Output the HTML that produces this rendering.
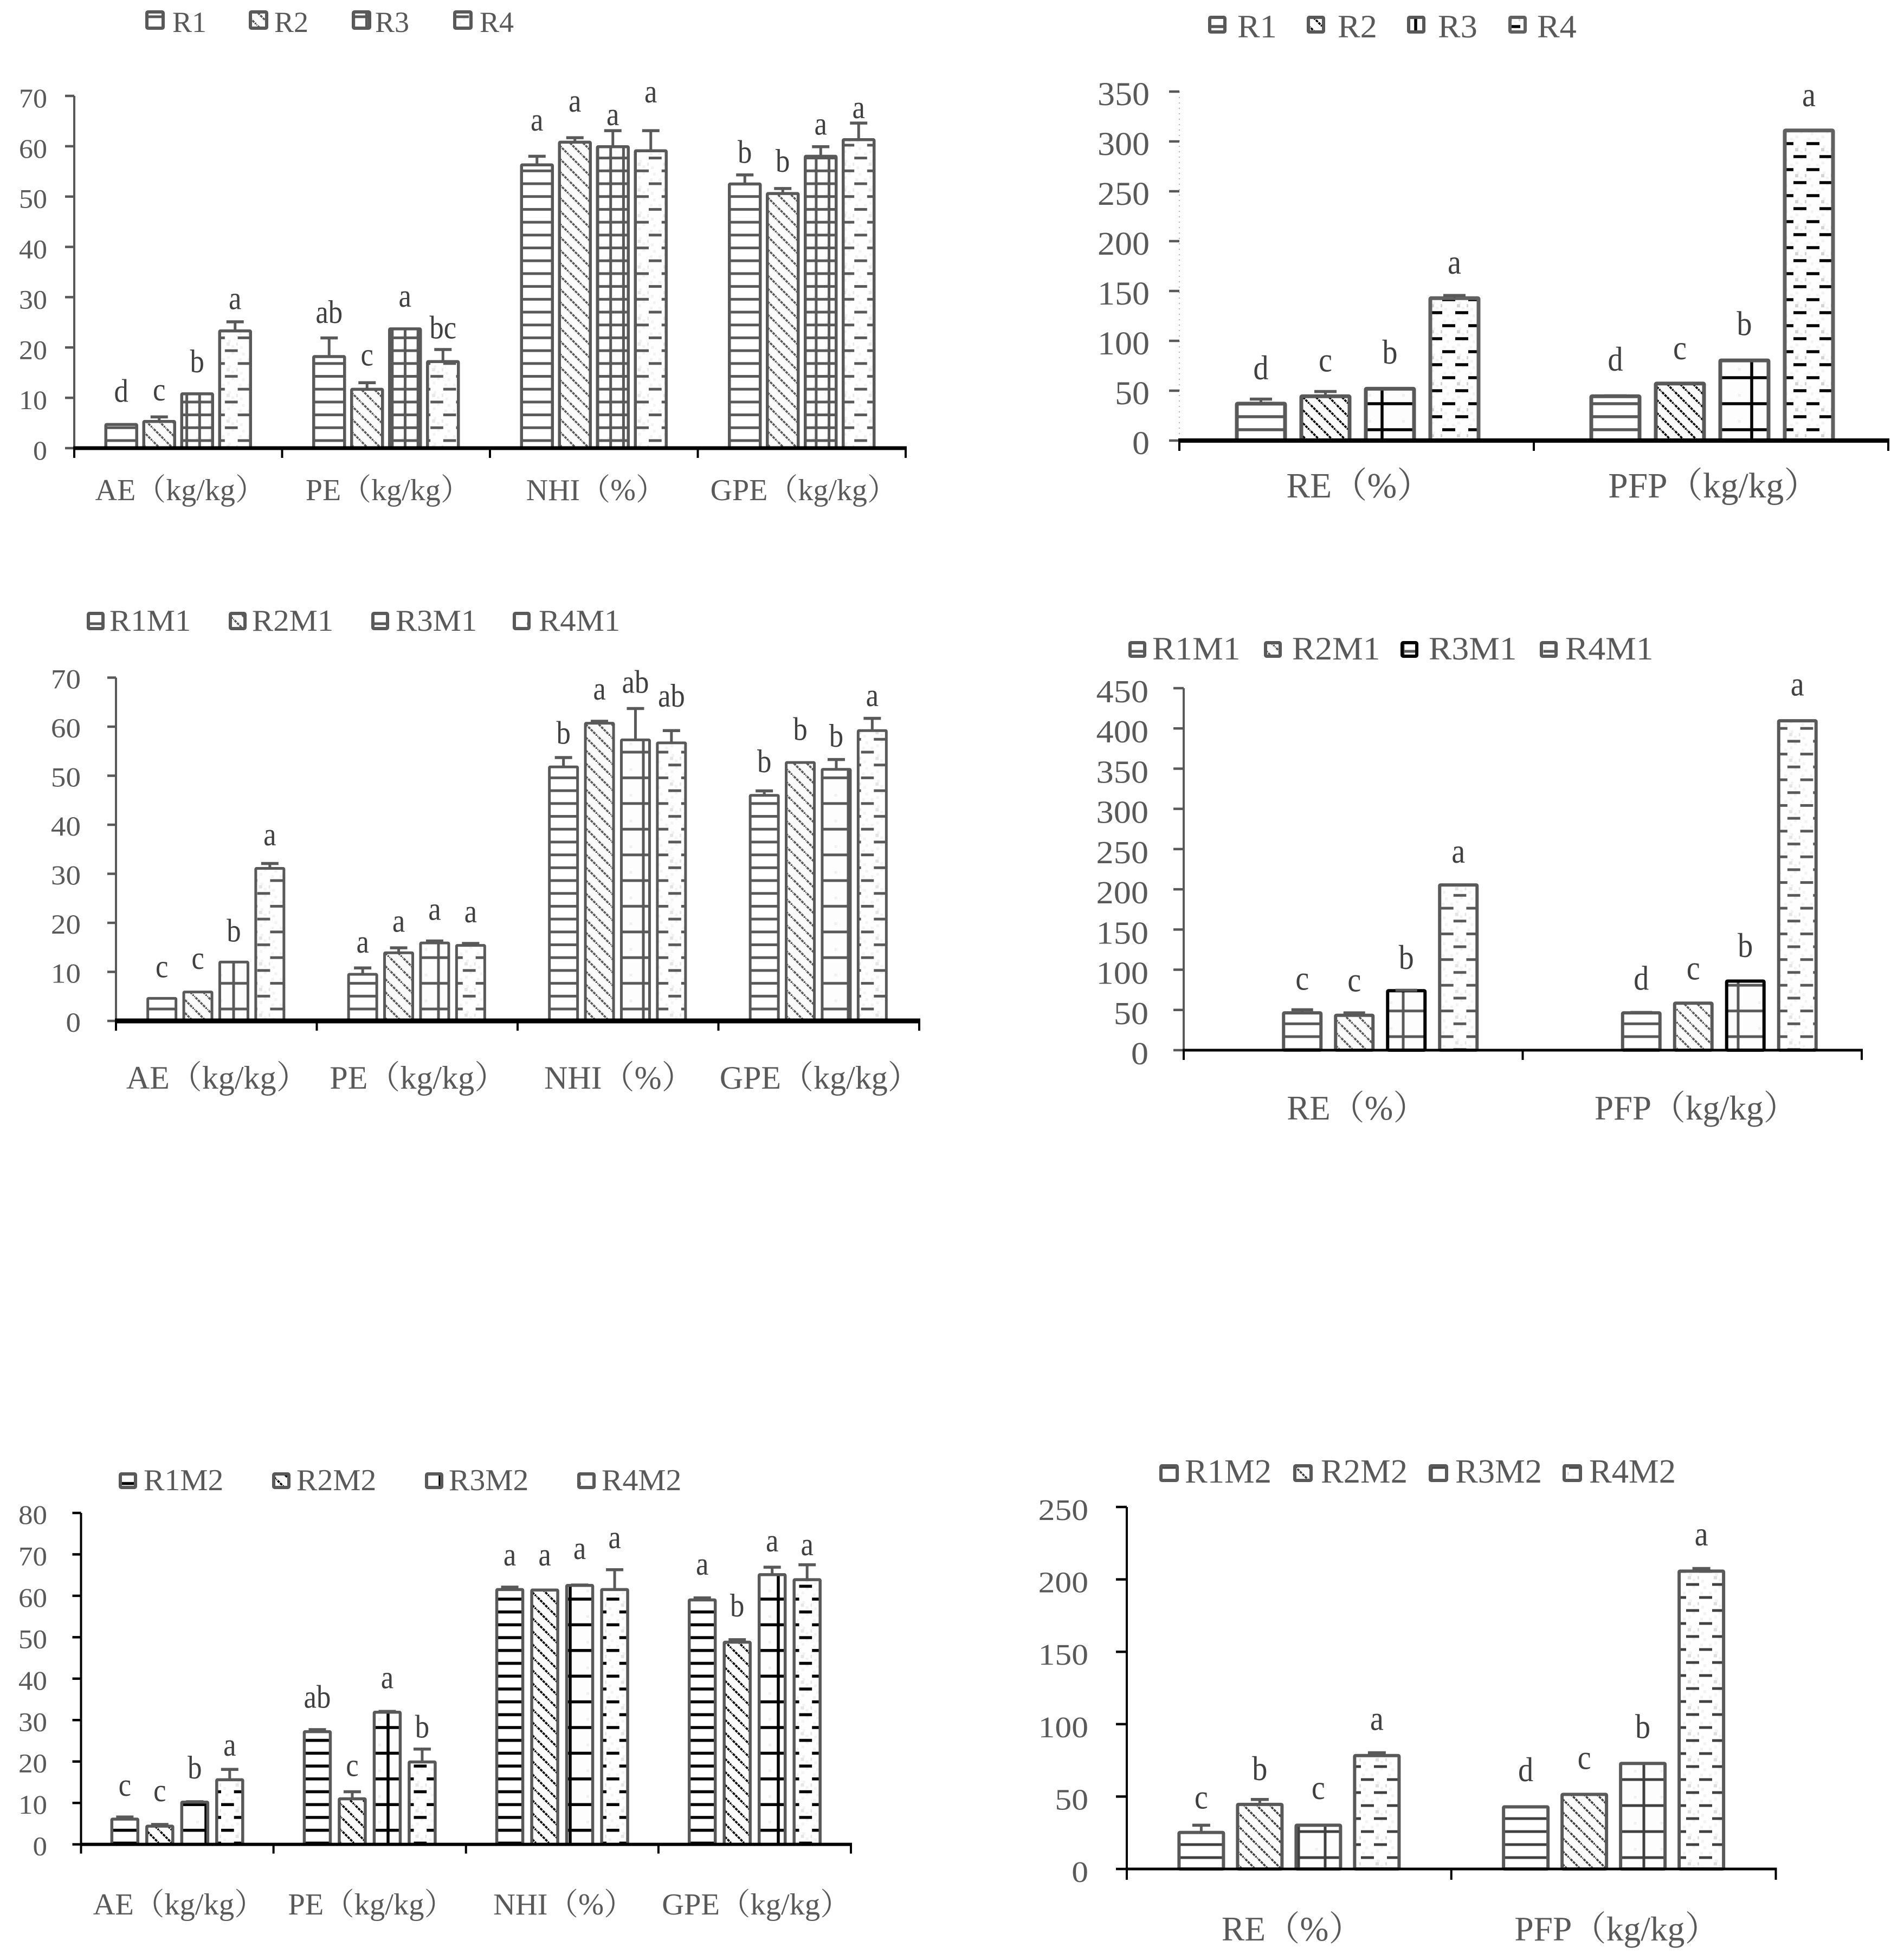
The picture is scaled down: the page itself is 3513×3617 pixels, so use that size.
<!DOCTYPE html>
<html lang="en">
<head>
<meta charset="utf-8">
<title>Grouped bar charts R1-R4</title>
<style>
html,body{margin:0;padding:0;background:#fff;}
svg{display:block;}
text{font-family:"Liberation Serif","Noto Serif CJK SC",serif;}
</style>
</head>
<body>
<svg id="figure" xmlns="http://www.w3.org/2000/svg" width="3513" height="3617" viewBox="0 0 3513 3617">
<defs id="defs"></defs>
<rect x="0" y="0" width="3513" height="3617" fill="#ffffff"/>
</svg>
<script>
// ---- data: top-left chart ----
const c1Categories = ['AE（kg/kg）','PE（kg/kg）','NHI（%）','GPE（kg/kg）'];
const c1Series = ['R1','R2','R3','R4'];
const c1Ticks = [0,10,20,30,40,50,60,70];
const c1R1 = [4.7,18.2,56.3,52.5];
const c1R2 = [5.3,11.7,60.8,50.6];
const c1R3 = [10.8,23.7,59.9,58];
const c1R4 = [23.3,17.2,59.1,61.3];
const c1ErrR1 = [0,3.7,1.7,1.8];
const c1ErrR2 = [0.9,1.3,0.9,1];
const c1ErrR3 = [0,0,3.2,1.9];
const c1ErrR4 = [1.8,2.4,4,3.3];
const c1LetR1 = ['d','ab','a','b'];
const c1LetR2 = ['c','c','a','b'];
const c1LetR3 = ['b','a','a','a'];
const c1LetR4 = ['a','bc','a','a'];
const c1LiftR1 = [4.5,3,5.1,2.4];
const c1LiftR2 = [3.3,3.4,5.2,3.3];
const c1LiftR3 = [4.3,4.4,1.1,2.4];
const c1LiftR4 = [2.5,2.2,5.6,1];

// ---- data: top-right chart ----
const c2Categories = ['RE（%）','PFP（kg/kg）'];
const c2Series = ['R1','R2','R3','R4'];
const c2Ticks = [0,50,100,150,200,250,300,350];
const c2R1 = [37,44.4];
const c2R2 = [44.4,57.2];
const c2R3 = [52,80.4];
const c2R4 = [142.8,311];
const c2ErrR1 = [4.6,0.5];
const c2ErrR2 = [4.8,0];
const c2ErrR3 = [0,0];
const c2ErrR4 = [2.7,0];
const c2LetR1 = ['d','d'];
const c2LetR2 = ['c','c'];
const c2LetR3 = ['b','b'];
const c2LetR4 = ['a','a'];
const c2LiftR1 = [19.7,25.1];
const c2LiftR2 = [20.1,24.2];
const c2LiftR3 = [25.3,25.3];
const c2LiftR4 = [21.9,24.4];

// ---- data: middle-left chart ----
const c3Categories = ['AE（kg/kg）','PE（kg/kg）','NHI（%）','GPE（kg/kg）'];
const c3Series = ['R1M1','R2M1','R3M1','R4M1'];
const c3Ticks = [0,10,20,30,40,50,60,70];
const c3R1 = [4.6,9.5,51.8,46];
const c3R2 = [5.9,13.9,60.7,52.7];
const c3R3 = [12,15.9,57.3,51.3];
const c3R4 = [31.1,15.4,56.7,59.2];
const c3ErrR1 = [0,1.3,1.9,0.9];
const c3ErrR2 = [0,1,0.4,0];
const c3ErrR3 = [0,0.4,6.4,2];
const c3ErrR4 = [1,0.4,2.5,2.5];
const c3LetR1 = ['c','a','b','b'];
const c3LetR2 = ['c','a','a','b'];
const c3LetR3 = ['b','a','ab','b'];
const c3LetR4 = ['a','a','ab','a'];
const c3LiftR1 = [4.3,3.1,2.8,3.8];
const c3LiftR2 = [4.7,3.3,4.4,4.6];
const c3LiftR3 = [4.2,4.3,3.2,2.6];
const c3LiftR4 = [3.7,4.3,4.9,2.5];

// ---- data: middle-right chart ----
const c4Categories = ['RE（%）','PFP（kg/kg）'];
const c4Series = ['R1M1','R2M1','R3M1','R4M1'];
const c4Ticks = [0,50,100,150,200,250,300,350,400,450];
const c4R1 = [46.4,46.4];
const c4R2 = [43.4,58.4];
const c4R3 = [73.9,85.9];
const c4R4 = [205.4,409.5];
const c4ErrR1 = [3.9,0.5];
const c4ErrR2 = [3,0];
const c4ErrR3 = [0.6,0];
const c4ErrR4 = [0,0];
const c4LetR1 = ['c','d'];
const c4LetR2 = ['c','c'];
const c4LetR3 = ['b','b'];
const c4LetR4 = ['a','a'];
const c4LiftR1 = [24.9,28.3];
const c4LiftR2 = [26.6,29.6];
const c4LiftR3 = [26.5,30.1];
const c4LiftR4 = [27.6,31.5];

// ---- data: bottom-left chart ----
const c5Categories = ['AE（kg/kg）','PE（kg/kg）','NHI（%）','GPE（kg/kg）'];
const c5Series = ['R1M2','R2M2','R3M2','R4M2'];
const c5Ticks = [0,10,20,30,40,50,60,70,80];
const c5R1 = [6.1,27.2,61.5,59];
const c5R2 = [4.4,11,61.4,48.8];
const c5R3 = [10.2,31.9,62.5,65.1];
const c5R4 = [15.6,19.9,61.5,63.9];
const c5ErrR1 = [0.5,0.5,0.6,0.5];
const c5ErrR2 = [0.4,1.7,0,0.6];
const c5ErrR3 = [0.1,0.2,0.1,1.8];
const c5ErrR4 = [2.5,3.1,4.8,3.6];
const c5LetR1 = ['c','ab','a','a'];
const c5LetR2 = ['c','c','a','b'];
const c5LetR3 = ['b','a','a','a'];
const c5LetR4 = ['a','b','a','a'];
const c5LiftR1 = [5.1,5.3,5.2,5.6];
const c5LiftR2 = [5.6,3.8,5.9,5.6];
const c5LiftR3 = [5.6,5.6,6.3,3.8];
const c5LiftR4 = [3.3,2.8,5.2,2.3];

// ---- data: bottom-right chart ----
const c6Categories = ['RE（%）','PFP（kg/kg）'];
const c6Series = ['R1M2','R2M2','R3M2','R4M2'];
const c6Ticks = [0,50,100,150,200,250];
const c6R1 = [25.2,42.9];
const c6R2 = [44.6,51.5];
const c6R3 = [30.2,72.9];
const c6R4 = [78.3,205.7];
const c6ErrR1 = [5,0];
const c6ErrR2 = [3.4,0];
const c6ErrR3 = [0,0];
const c6ErrR4 = [2,1.8];
const c6LetR1 = ['c','d'];
const c6LetR2 = ['b','c'];
const c6LetR3 = ['c','b'];
const c6LetR4 = ['a','a'];
const c6LiftR1 = [11.6,17.8];
const c6LiftR2 = [13.4,17.5];
const c6LiftR3 = [18,17.4];
const c6LiftR4 = [15.7,15.9];

// ---- layout (pixels and styling only) ----
const layouts = [
 {id:'c1',x0:137,x1:1671,top:177,base:827,max:70,cats:c1Categories,series:c1Series,ticks:c1Ticks,
  vals:[c1R1,c1R2,c1R3,c1R4],errs:[c1ErrR1,c1ErrR2,c1ErrR3,c1ErrR4],lets:[c1LetR1,c1LetR2,c1LetR3,c1LetR4],lifts:[c1LiftR1,c1LiftR2,c1LiftR3,c1LiftR4],
  pitch:70,barW:57,stroke:5.5,capW:32,barShift:0,tickLen:17,xTickLen:18,axisW:7,yAxisW:4,
  tickFont:50,tickSx:1.04,tickRight:87,tickDy:21,letFont:60,letSx:.88,
  catFont:56,catBase:923,catShift:4,
  legFont:54,legSx:1,legBase:59,legSwY:22,legSwH:30,legSwX:[271,462,652,839],legSwW:30,legTxt:[318,506,692,885],
  hOff:14,hP:23.7,vP:23.7,vAnchor:1126.7,dashX:1197,hatch:['#595959','#595959','#595959','#595959'],t:5,dots:'#e8e8e8',border:['#595959','#595959','#595959','#595959'],axisCol:'#595959'},
 {id:'c2',x0:2176,x1:3484,top:169,base:813,max:350,cats:c2Categories,series:c2Series,ticks:c2Ticks,
  vals:[c2R1,c2R2,c2R3,c2R4],errs:[c2ErrR1,c2ErrR2,c2ErrR3,c2ErrR4],lets:[c2LetR1,c2LetR2,c2LetR3,c2LetR4],lifts:[c2LiftR1,c2LiftR2,c2LiftR3,c2LiftR4],
  pitch:119,barW:89,stroke:7,capW:41,barShift:2,tickLen:19,xTickLen:19,axisW:8,yAxisW:1.5,yDash:'2 8',
  tickFont:61,tickSx:1.05,tickRight:2121,tickDy:25,letFont:64,letSx:.88,
  catFont:65.5,catBase:918,catShift:5,
  legFont:60,legSx:1.04,legBase:69,legSwY:32,legSwH:27,legSwX:[2232,2414,2599,2786],legSwW:28,legTxt:[2283,2468,2653,2836],
  hOff:20,hP:24,vP:62,vAnchor:2550,hMul:2,dashX:3333,hatch:['#595959','#000000','#000000','#000000'],t:5.5,dots:'#d4d4d4',border:['#595959','#595959','#595959','#616161'],axisCol:'#595959'},
 {id:'c3',x0:214,x1:1696,top:1250.5,base:1884,max:70,cats:c3Categories,series:c3Series,ticks:c3Ticks,
  vals:[c3R1,c3R2,c3R3,c3R4],errs:[c3ErrR1,c3ErrR2,c3ErrR3,c3ErrR4],lets:[c3LetR1,c3LetR2,c3LetR3,c3LetR4],lifts:[c3LiftR1,c3LiftR2,c3LiftR3,c3LiftR4],
  pitch:66.4,barW:52,stroke:5,capW:32,barShift:-1,tickLen:16,xTickLen:18,axisW:9,yAxisW:4,
  tickFont:51,tickSx:1.08,tickRight:149,tickDy:20,letFont:60,letSx:.88,
  catFont:60,catBase:2009,catShift:2,
  legFont:56,legSx:1.05,legBase:1164,legSwY:1132,legSwH:28,legSwX:[163,425,688,949],legSwW:27,legTxt:[202,465,730,994],
  hOff:22,hP:23.7,vP:63,vAnchor:431,hMul:2,hatch:['#595959','#595959','#595959','#595959'],t:5,dots:'#e4e4e4',border:['#595959','#595959','#595959','#595959'],axisCol:'#595959'},
 {id:'c4',x0:2184,x1:3435,top:1270,base:1938,max:450,cats:c4Categories,series:c4Series,ticks:c4Ticks,
  vals:[c4R1,c4R2,c4R3,c4R4],errs:[c4ErrR1,c4ErrR2,c4ErrR3,c4ErrR4],lets:[c4LetR1,c4LetR2,c4LetR3,c4LetR4],lifts:[c4LiftR1,c4LiftR2,c4LiftR3,c4LiftR4],
  pitch:96,barW:69,stroke:6,capW:40,barShift:50,tickLen:19,xTickLen:18,axisW:5,yAxisW:4,
  tickFont:59,tickSx:1.09,tickRight:2119,tickDy:26,letFont:64,letSx:.88,
  catFont:63,catBase:2066,catShift:7,
  legFont:60,legSx:1.06,legBase:1217,legSwY:1186,legSwH:25,legSwX:[2085,2335,2587,2844],legSwW:27,legTxt:[2126,2384,2636,2888],
  hOff:25,hP:23.7,vP:61.8,vAnchor:2589,hMul:2,hatch:['#595959','#595959','#595959','#595959'],t:5,dots:'#e4e4e4',border:['#595959','#595959','#000000','#595959'],axisCol:'#595959'},
 {id:'c5',x0:149.5,x1:1570,top:2792,base:3403.6,max:80,cats:c5Categories,series:c5Series,ticks:c5Ticks,
  vals:[c5R1,c5R2,c5R3,c5R4],errs:[c5ErrR1,c5ErrR2,c5ErrR3,c5ErrR4],lets:[c5LetR1,c5LetR2,c5LetR3,c5LetR4],lifts:[c5LiftR1,c5LiftR2,c5LiftR3,c5LiftR4],
  pitch:64.5,barW:48,stroke:5.5,capW:32,barShift:0,tickLen:16,xTickLen:17,axisW:6,yAxisW:4,yCol:'#000000',
  tickFont:50,tickSx:1.06,tickRight:87,tickDy:20,letFont:60,letSx:.88,
  catFont:56.5,catBase:3533,catShift:3,
  legFont:56,legSx:1.03,legBase:2750,legSwY:2720,legSwH:25,legSwX:[222,505,787,1068],legSwW:28,legTxt:[265,547,828,1110],
  hOff:26,hP:23.7,vP:48,vAnchor:716,hMul:2,dashX:1119,hatch:['#000000','#000000','#000000','#000000'],t:5.5,dots:'#e6e6e6',border:['#595959','#595959','#595959','#595959'],axisCol:'#404040'},
 {id:'c6',x0:2079,x1:3276.5,top:2781,base:3449,max:250,cats:c6Categories,series:c6Series,ticks:c6Ticks,
  vals:[c6R1,c6R2,c6R3,c6R4],errs:[c6ErrR1,c6ErrR2,c6ErrR3,c6ErrR4],lets:[c6LetR1,c6LetR2,c6LetR3,c6LetR4],lifts:[c6LiftR1,c6LiftR2,c6LiftR3,c6LiftR4],
  pitch:108,barW:82,stroke:6,capW:33,barShift:0,tickLen:20,xTickLen:20,axisW:5,yAxisW:4,yCol:'#000000',
  tickFont:55,tickSx:1.12,tickRight:2008,tickDy:24,letFont:64,letSx:.88,
  catFont:63.5,catBase:3581,catShift:6,
  legFont:62,legSx:1.01,legBase:2736,legSwY:2705,legSwH:27,legSwX:[2142,2389,2639,2886],legSwW:30,legTxt:[2186,2437,2685,2932],
  hOff:21,hP:24,vP:49,vAnchor:2445,hMul:2,hatch:['#404040','#404040','#404040','#404040'],t:5,dots:'#dedede',border:['#595959','#595959','#595959','#595959'],axisCol:'#000000'}
];

const NS = 'http://www.w3.org/2000/svg';
const root = document.getElementById('figure');
const defs = document.getElementById('defs');

function mk(tag, attrs, parent){
  const el = document.createElementNS(NS, tag);
  for(const k in attrs){ el.setAttribute(k, attrs[k]); }
  if(parent){ parent.appendChild(el); }
  return el;
}
function addText(parent, x, y, str, size, anchor, sx, fill){
  const el = mk('text', {transform:'translate('+x+','+y+') scale('+sx+',1)','font-size':size,'text-anchor':anchor,fill:fill}, parent);
  el.textContent = str;
  return el;
}

function buildPatterns(L){
  const firstLine = L.base - L.hOff;
  // R1: horizontal rules
  const p1 = mk('pattern',{id:L.id+'-r1',patternUnits:'userSpaceOnUse',x:0,y:firstLine-L.hP/2,width:20,height:L.hP},defs);
  mk('rect',{width:20,height:L.hP,fill:'#ffffff'},p1);
  mk('rect',{x:0,y:L.hP/2-L.t/2,width:20,height:L.t,fill:L.hatch[0]},p1);
  // R2: diagonal dashes
  const p2 = mk('pattern',{id:L.id+'-r2',patternUnits:'userSpaceOnUse',x:L.x0,y:firstLine,width:24,height:24},defs);
  mk('rect',{width:24,height:24,fill:'#fbfbfb'},p2);
  mk('line',{x1:-2,y1:-2,x2:26,y2:26,stroke:L.hatch[1],'stroke-width':3.6,'stroke-dasharray':'5 1.6'},p2);
  // R3: grid
  const hh = L.hP*(L.hMul||1);
  const p3 = mk('pattern',{id:L.id+'-r3',patternUnits:'userSpaceOnUse',x:L.vAnchor-L.vP/2,y:firstLine-hh/2,width:L.vP,height:hh},defs);
  mk('rect',{width:L.vP,height:hh,fill:'#fdfdfd'},p3);
  mk('rect',{x:6,y:6,width:5,height:5,fill:'#f0f0f0'},p3);
  mk('rect',{x:0,y:hh/2-L.t/2,width:L.vP,height:L.t,fill:L.hatch[2]},p3);
  mk('rect',{x:L.vP/2-L.t/2,y:0,width:L.t,height:hh,fill:L.hatch[2]},p3);
  // R4: staggered dashes on a light speckle
  const P = L.hP*2;
  const dashStart = (L.dashX === undefined) ? L.x0 : L.dashX;
  const p4 = mk('pattern',{id:L.id+'-r4',patternUnits:'userSpaceOnUse',x:dashStart,y:firstLine-L.t/2,width:P,height:P},defs);
  mk('rect',{width:P,height:P,fill:'#fefefe'},p4);
  [[3,11],[21,11]].forEach(function(d){
    mk('rect',{x:P/2+d[0],y:d[1],width:6,height:6,fill:L.dots},p4);
  });
  [[P/2+6,6],[P/2+12,16],[4,18],[28,36],[8,30],[18,40],[36,28],[2,40]].forEach(function(d){
    mk('rect',{x:d[0],y:d[1],width:5,height:5,fill:'#f3f3f3'},p4);
  });
  mk('rect',{x:0,y:0,width:P/2,height:L.t,fill:L.hatch[3]},p4);
  mk('rect',{x:P/2,y:P/2,width:P/2,height:L.t,fill:L.hatch[3]},p4);
}

function drawChart(L){
  buildPatterns(L);
  const yOf = function(v){ return L.base - (v/L.max)*(L.base-L.top); };
  const band = (L.x1-L.x0)/L.cats.length;
  const catX = function(c){ return L.x0 + (c+0.5)*band; };
  const barX = function(c,s){ return catX(c) + L.barShift + (s-1.5)*L.pitch; };
  const yCol = L.yCol || L.axisCol;

  const g = mk('g',{},root);
  
  

  // bars, error bars, significance letters
  L.series.forEach(function(name,s){
    L.cats.forEach(function(cat,c){
      const v = L.vals[s][c];
      const e = L.errs[s][c];
      const cx = barX(c,s);
      const bar = mk('rect',{x:cx-L.barW/2,y:yOf(v),width:L.barW,height:L.base-yOf(v),fill:'url(#'+L.id+'-r'+(s+1)+')',stroke:L.border[s],'stroke-width':L.stroke,rx:1.5},g);
      
      
      if(e>0){
        const stem = mk('line',{x1:cx,x2:cx,y1:yOf(v),y2:yOf(v+e),stroke:'#595959','stroke-width':5},g);
        
        
        const cap = mk('line',{x1:cx-L.capW/2,x2:cx+L.capW/2,y1:yOf(v+e),y2:yOf(v+e),stroke:'#595959','stroke-width':5.5},g);
        
        
      }
      const letter = addText(g,cx,yOf(v+e+L.lifts[s][c]),L.lets[s][c],L.letFont,'middle',L.letSx,'#404040');
      
      
    });
  });

  // y axis
  const yAxis = mk('line',{x1:L.x0,x2:L.x0,y1:L.top,y2:L.base,stroke:L.yDash?'#999999':yCol,'stroke-width':L.yAxisW},g);
  if(L.yDash){ yAxis.setAttribute('stroke-dasharray', L.yDash); }
  
  
  L.ticks.forEach(function(t){
    const tk = mk('line',{x1:L.x0-L.tickLen,x2:L.x0,y1:yOf(t),y2:yOf(t),stroke:yCol,'stroke-width':4.5},g);
    
    
    const lb = addText(g,L.tickRight,yOf(t)+L.tickDy,String(t),L.tickFont,'end',L.tickSx,'#595959');
    
    
  });

  // x axis
  const xAxis = mk('line',{x1:L.x0-2,x2:L.x1+2,y1:L.base,y2:L.base,stroke:'#000000','stroke-width':L.axisW},g);
  
  
  for(let i=0;i<=L.cats.length;i++){
    const xt = L.x0 + i*band;
    const tick = mk('line',{x1:xt,x2:xt,y1:L.base,y2:L.base+L.xTickLen,stroke:'#000000','stroke-width':4},g);
    
    
  }
  L.cats.forEach(function(cat,c){
    const lb = addText(g,catX(c)+L.catShift,L.catBase,cat,L.catFont,'middle',1,'#595959');
    
    
  });

  // legend
  L.series.forEach(function(name,s){
    const sw = mk('rect',{x:L.legSwX[s],y:L.legSwY,width:L.legSwW,height:L.legSwH,fill:'url(#'+L.id+'-r'+(s+1)+')',stroke:L.border[s],'stroke-width':6,rx:2},g);
    
    
    const tx = addText(g,L.legTxt[s],L.legBase,name,L.legFont,'start',L.legSx,'#595959');
    
    
  });
}

layouts.forEach(drawChart);
</script>
</body>
</html>
